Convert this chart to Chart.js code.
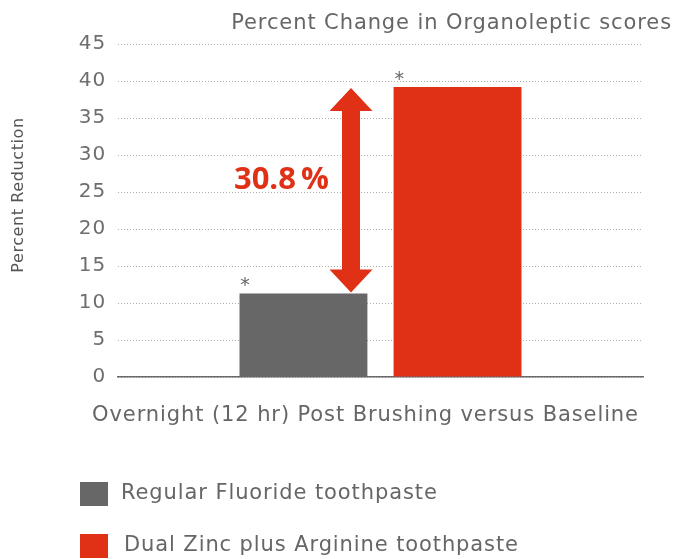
<!DOCTYPE html>
<html>
<head>
<meta charset="utf-8">
<script src="https://cdn.jsdelivr.net/npm/chart.js@4"></script>
<style>
  html, body { margin: 0; padding: 0; background: #fff; }
  #wrap { width: 689px; height: 559px; position: relative; }
</style>
</head>
<body>
<div id="wrap"><canvas id="chart"></canvas></div>
<script>
const categories   = ['Overnight (12 hr) Post Brushing versus Baseline'];
const seriesNames  = ['Regular Fluoride toothpaste', 'Dual Zinc plus Arginine toothpaste'];
const fluoride     = [11.3];
const zincArginine = [39.2];
const yTicks       = [0, 5, 10, 15, 20, 25, 30, 35, 40, 45];
const diffLabel    = '30.8\u2009%';

const GRAY = '#676767';
const RED  = '#e03016';
const TEXT = '#666666';
const FONT = "'DejaVu Sans', sans-serif";
const BOLD = "'Open Sans', sans-serif";
const SPACING = '0.9px';

// the reference type is wider than anything installed, so letter-space it a bit
// (only while drawing, so the layout is measured on the plain text)
const spacing = {
  id: 'spacing',
  beforeLayout(chart) { chart.ctx.letterSpacing = '0px'; },
  beforeDraw(chart)   { chart.ctx.letterSpacing = SPACING; }
};

// title, axis title, asterisks, arrow, difference label and legend
const extras = {
  id: 'extras',
  afterDraw(chart) {
    const ctx = chart.ctx;
    const y   = chart.scales.y;
    ctx.save();
    ctx.letterSpacing = SPACING;

    ctx.fillStyle = TEXT;
    ctx.font = `21px ${FONT}`;
    ctx.textAlign = 'right';
    ctx.textBaseline = 'alphabetic';
    ctx.fillText('Percent Change in Organoleptic scores', 672, 29);

    ctx.save();
    ctx.translate(19, 195);
    ctx.rotate(-Math.PI / 2);
    ctx.font = `16px ${FONT}`;
    ctx.letterSpacing = '0.6px';
    ctx.textAlign = 'center';
    ctx.textBaseline = 'middle';
    ctx.fillStyle = '#555';
    ctx.fillText('Percent Reduction', 0, 0);
    ctx.restore();

    // asterisks over each bar
    ctx.font = `19px ${FONT}`;
    ctx.textAlign = 'center';
    chart.data.datasets.forEach((ds, i) => {
      chart.getDatasetMeta(i).data.forEach(bar => {
        const left = bar.x - bar.width / 2;
        ctx.fillText('*', left + 6, bar.y - 2);
      });
    });

    // double arrow between the two bar tops
    const ax   = 351;
    const top  = y.getPixelForValue(zincArginine[0]) + 1;
    const bot  = y.getPixelForValue(fluoride[0]) - 1;
    const head = 23, hw = 21.5, sw = 9;
    ctx.fillStyle = RED;
    ctx.beginPath();
    ctx.moveTo(ax, top);
    ctx.lineTo(ax + hw, top + head);
    ctx.lineTo(ax + sw, top + head);
    ctx.lineTo(ax + sw, bot - head);
    ctx.lineTo(ax + hw, bot - head);
    ctx.lineTo(ax, bot);
    ctx.lineTo(ax - hw, bot - head);
    ctx.lineTo(ax - sw, bot - head);
    ctx.lineTo(ax - sw, top + head);
    ctx.lineTo(ax - hw, top + head);
    ctx.closePath();
    ctx.fill();

    ctx.letterSpacing = '0px';
    ctx.font = `bold 31px ${BOLD}`;
    ctx.textAlign = 'right';
    ctx.textBaseline = 'middle';
    ctx.fillText(diffLabel, 329, 180);

    // legend
    ctx.letterSpacing = SPACING;
    const rows = [{ y: 482, tx: 121 }, { y: 534, tx: 124 }];
    ctx.font = `21px ${FONT}`;
    ctx.textAlign = 'left';
    chart.data.datasets.forEach((ds, i) => {
      const r = rows[i];
      ctx.fillStyle = ds.backgroundColor;
      ctx.fillRect(80, r.y, 28, 24);
      ctx.fillStyle = TEXT;
      ctx.fillText(ds.label, r.tx, r.y + 12);
    });

    ctx.restore();
  }
};

new Chart(document.getElementById('chart'), {
  type: 'bar',
  data: {
    labels: categories,
    datasets: [
      { label: seriesNames[0], data: fluoride,     backgroundColor: GRAY },
      { label: seriesNames[1], data: zincArginine, backgroundColor: RED }
    ]
  },
  options: {
    responsive: true,
    maintainAspectRatio: false,
    animation: false,
    categoryPercentage: 0.587,
    barPercentage: 0.83,
    layout: { padding: { top: 44, right: 46, bottom: 132, left: 0 } },
    plugins: {
      legend: { display: false },
      tooltip: { enabled: false }
    },
    scales: {
      x: {
        grid: { display: false },
        border: { display: true, color: '#6a6a6a', width: 1.5 },
        ticks: { color: TEXT, font: { family: FONT, size: 21 }, padding: 18, labelOffset: -15 },
        afterFit: s => { s.height = 50; }
      },
      y: {
        min: 0,
        max: 45,
        afterBuildTicks: s => { s.ticks = yTicks.map(v => ({ value: v })); },
        grid: { color: '#b0b0b0', drawTicks: false },
        border: { display: false, dash: [1, 2] },
        ticks: { color: '#6e6e6e', font: { family: FONT, size: 20 }, padding: 12 },
        afterFit: s => { s.width = 118; }
      }
    }
  },
  plugins: [spacing, extras]
});
</script>
</body>
</html>
